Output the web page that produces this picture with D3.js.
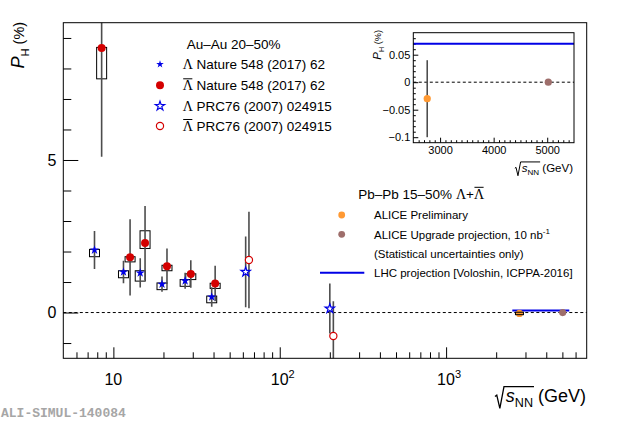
<!DOCTYPE html>
<html>
<head>
<meta charset="utf-8">
<script src="https://cdn.jsdelivr.net/npm/d3@7/dist/d3.min.js"></script>
<style>
  body { margin: 0; background: #fff; }
  text { font-family: "Liberation Sans", Arial, sans-serif; fill: #000; }
</style>
</head>
<body>
<svg id="chart" width="620" height="423"></svg>
<script>
// ---- data ----
// STAR Nature 548 (2017) 62, Lambda
const natLamE = [7.7, 11.5, 14.5, 19.6, 27, 39];
const natLamP = [2.05, 1.33, 1.30, 0.93, 1.04, 0.51];
const natLamStat = [0.62, 0.37, 0.48, 0.25, 0.26, 0.32];
const natLamSysLo = [0.22, 0.19, 0.27, 0.18, 0.18, 0.19];
const natLamSysHi = [0.02, 0.04, 0.07, 0.04, 0.04, 0.03];
// STAR Nature 548 (2017) 62, anti-Lambda (drawn slightly offset in energy)
const natBarE = [8.5, 12.6, 15.5, 21, 29.2, 40.9];
const natBarP = [8.67, 1.81, 2.28, 1.52, 1.26, 0.95];
const natBarStat = [3.56, 1.25, 1.21, 0.58, 0.45, 0.58];
const natBarSysLo = [1.01, 0.15, 0.18, 0.15, 0.18, 0.16];
const natBarSysHi = [0.02, 0.02, 0.40, 0.03, 0.01, 0.01];
// STAR PRC76 (2007) 024915
const prcLamE = [62.4, 200];
const prcLamP = [1.33, 0.13];
const prcLamStat = [1.16, 0.82];
const prcBarE = [65.3, 210];
const prcBarP = [1.72, -0.77];
const prcBarStat = [1.58, 1.14];
// ALICE
const alicePrelimE = [2760];
const alicePrelimP = [-0.03];
const alicePrelimStat = [0.07];
const alicePrelimSys = [0.04];
const aliceUpgE = [5020];
const aliceUpgP = [0.0];
// LHC projection (Voloshin)
const lhcProjE = [2500, 5500];
const lhcProjP = 0.07;

const xMajor = [10, 100, 1000];
const xMinor = [6, 7, 8, 9, 20, 30, 40, 50, 60, 70, 80, 90,
                200, 300, 400, 500, 600, 700, 800, 900, 2000, 3000, 4000, 5000, 6000];
const yMajor = [0, 5];
const yMinor = [-1, 1, 2, 3, 4, 6, 7, 8, 9];
const insetXMajor = [3000, 4000, 5000];
const insetYMajor = [-0.1, -0.05, 0, 0.05];
const insetYLabels = ["\u22120.1", "\u22120.05", "0", "0.05"];

const RED = "#d40000", BLUE = "#0000e6", ORANGE = "#ff9933", BROWN = "#9e6e6b", ERR = "#4d4d4d";
const SERIF = "'Liberation Serif', 'DejaVu Serif', serif";

const svg = d3.select("#chart");

const x = d3.scaleLog().domain([5, 7000]).range([63.3, 586.7]);
const y = d3.scaleLinear().domain([-1.5, 9.5]).range([358.3, 22.7]);

svg.append("clipPath").attr("id", "plotclip")
  .append("rect").attr("x", x.range()[0]).attr("y", y.range()[1])
  .attr("width", x.range()[1] - x.range()[0]).attr("height", y.range()[0] - y.range()[1]);

// axes (ticks inward, labels drawn separately)
svg.append("g").attr("transform", "translate(0," + y.range()[0] + ")")
  .call(d3.axisBottom(x).tickValues(xMajor).tickSize(-11).tickFormat(""))
  .call(g => g.select(".domain").remove());
svg.append("g").attr("transform", "translate(0," + y.range()[0] + ")")
  .call(d3.axisBottom(x).tickValues(xMinor).tickSize(-6).tickFormat(""))
  .call(g => g.select(".domain").remove());
svg.append("g").attr("transform", "translate(" + x.range()[0] + ",0)")
  .call(d3.axisLeft(y).tickValues(yMajor).tickSize(-15).tickPadding(7).tickFormat(d3.format("d")))
  .call(g => g.select(".domain").remove())
  .call(g => g.selectAll("text").attr("font-size", 16));
svg.append("g").attr("transform", "translate(" + x.range()[0] + ",0)")
  .call(d3.axisLeft(y).tickValues(yMinor).tickSize(-8).tickFormat(""))
  .call(g => g.select(".domain").remove());
svg.selectAll(".tick line").attr("stroke", "#000");

// x tick labels 10, 10^2, 10^3
const xlab = svg.append("g");
xMajor.forEach((v, i) => {
  const t = xlab.append("text").attr("x", x(v) - 9).attr("y", 385).attr("font-size", 16);
  t.append("tspan").text("10");
  if (i > 0) t.append("tspan").attr("font-size", 11).attr("dy", -7).text(String(i + 1));
});

// zero line
svg.append("line").attr("x1", x.range()[0]).attr("x2", x.range()[1])
  .attr("y1", y(0)).attr("y2", y(0))
  .attr("stroke", "#000").attr("stroke-dasharray", "3,2.5");

const plot = svg.append("g").attr("clip-path", "url(#plotclip)");

function sysBoxes(E, P, lo, hi) {
  plot.selectAll(null).data(E).enter().append("rect")
    .attr("x", d => x(d) - 5).attr("width", 10)
    .attr("y", (d, i) => y(P[i] + hi[i]))
    .attr("height", (d, i) => Math.max(2, y(P[i] - lo[i]) - y(P[i] + hi[i])))
    .attr("fill", "none").attr("stroke", "#000").attr("stroke-width", 1);
}
function errBars(E, P, st) {
  plot.selectAll(null).data(E).enter().append("line")
    .attr("x1", d => x(d)).attr("x2", d => x(d))
    .attr("y1", (d, i) => y(P[i] + st[i])).attr("y2", (d, i) => y(P[i] - st[i]))
    .attr("stroke", ERR).attr("stroke-width", 1.6);
}
const starPath = s => d3.symbol(d3.symbolStar).size(s)();

sysBoxes(natLamE, natLamP, natLamSysLo, natLamSysHi);
sysBoxes(natBarE, natBarP, natBarSysLo, natBarSysHi);
errBars(natLamE, natLamP, natLamStat);
errBars(natBarE, natBarP, natBarStat);
errBars(prcLamE, prcLamP, prcLamStat);
errBars(prcBarE, prcBarP, prcBarStat);

plot.selectAll(null).data(natLamE).enter().append("path")
  .attr("d", starPath(26))
  .attr("transform", (d, i) => "translate(" + x(d) + "," + y(natLamP[i]) + ")")
  .attr("fill", BLUE);
plot.selectAll(null).data(natBarE).enter().append("circle")
  .attr("cx", d => x(d)).attr("cy", (d, i) => y(natBarP[i])).attr("r", 4)
  .attr("fill", RED);
plot.selectAll(null).data(prcLamE).enter().append("path")
  .attr("d", starPath(27))
  .attr("transform", (d, i) => "translate(" + x(d) + "," + y(prcLamP[i]) + ")")
  .attr("fill", "#fff").attr("stroke", BLUE).attr("stroke-width", 1.2);
plot.selectAll(null).data(prcBarE).enter().append("circle")
  .attr("cx", d => x(d)).attr("cy", (d, i) => y(prcBarP[i])).attr("r", 3.6)
  .attr("fill", "#fff").attr("stroke", RED).attr("stroke-width", 1.2);

// ALICE points + LHC projection in main panel
plot.append("line").attr("x1", x(lhcProjE[0])).attr("x2", x(lhcProjE[1]))
  .attr("y1", y(lhcProjP)).attr("y2", y(lhcProjP)).attr("stroke", BLUE).attr("stroke-width", 2);
plot.selectAll(null).data(alicePrelimE).enter().append("circle")
  .attr("cx", d => x(d)).attr("cy", (d, i) => y(alicePrelimP[i])).attr("r", 3.6).attr("fill", ORANGE);
plot.selectAll(null).data(alicePrelimE).enter().append("rect")
  .attr("x", d => x(d) - 4).attr("width", 8)
  .attr("y", (d, i) => y(alicePrelimP[i] + alicePrelimSys[i]))
  .attr("height", (d, i) => y(alicePrelimP[i] - alicePrelimSys[i]) - y(alicePrelimP[i] + alicePrelimSys[i]))
  .attr("fill", "none").attr("stroke", "#000").attr("stroke-width", 1);
plot.selectAll(null).data(aliceUpgE).enter().append("circle")
  .attr("cx", d => x(d)).attr("cy", (d, i) => y(aliceUpgP[i])).attr("r", 3.6).attr("fill", BROWN);

// frame
svg.append("rect").attr("x", x.range()[0]).attr("y", y.range()[1])
  .attr("width", x.range()[1] - x.range()[0]).attr("height", y.range()[0] - y.range()[1])
  .attr("fill", "none").attr("stroke", "#000").attr("stroke-width", 1);

// ---- helpers for labels ----
function overbar(textSel, idx) {
  const ext = textSel.node().getExtentOfChar(idx);
  svg.append("line").attr("x1", ext.x + 0.5).attr("x2", ext.x + ext.width - 0.5)
    .attr("y1", ext.y + 0.8).attr("y2", ext.y + 0.8)
    .attr("stroke", "#000").attr("stroke-width", 1);
}
function sqrtLabel(xRight, yb, fs) {
  const t = svg.append("text").attr("x", xRight).attr("y", yb)
    .attr("font-size", fs).attr("text-anchor", "end");
  t.append("tspan").attr("font-style", "italic").text("s");
  t.append("tspan").attr("font-size", fs * 0.7).attr("dy", fs * 0.3).text("NN");
  t.append("tspan").attr("dy", -fs * 0.3).text(" (GeV)");
  const n = t.node();
  const sx = n.getExtentOfChar(0).x;
  const e2 = n.getExtentOfChar(2);
  const ex = e2.x + e2.width;
  const top = yb - 0.85 * fs;
  svg.append("path")
    .attr("d", "M" + (sx - 0.6 * fs) + "," + (yb - 0.3 * fs) +
      "L" + (sx - 0.5 * fs) + "," + (yb - 0.38 * fs) +
      "L" + (sx - 0.33 * fs) + "," + (yb + 0.35 * fs) +
      "L" + (sx - 0.1 * fs) + "," + top +
      "L" + (ex + 1) + "," + top)
    .attr("fill", "none").attr("stroke", "#000").attr("stroke-width", fs > 14 ? 1.3 : 1);
}
function phLabel(tx, ty, fs) {
  const t = svg.append("text").attr("transform", "translate(" + tx + "," + ty + ") rotate(-90)")
    .attr("text-anchor", "end").attr("font-size", fs);
  t.append("tspan").attr("font-style", "italic").text("P");
  t.append("tspan").attr("font-size", fs * 0.62).attr("dy", fs * 0.25).text("H");
  t.append("tspan").attr("font-size", fs * 0.8).attr("dy", -fs * 0.25).text(" (%)");
}

phLabel(24, 22, 18);
sqrtLabel(586, 402, 18);

// ---- Au-Au legend ----
svg.append("text").attr("x", 186.7).attr("y", 49).attr("font-size", 13.5).text("Au\u2013Au 20\u201350%");
const legRows = [
  { y: 64.3, bar: false, txt: " Nature 548 (2017) 62", mark: "fstar" },
  { y: 85.3, bar: true, txt: " Nature 548 (2017) 62", mark: "fdot" },
  { y: 106, bar: false, txt: " PRC76 (2007) 024915", mark: "ostar" },
  { y: 126, bar: true, txt: " PRC76 (2007) 024915", mark: "odot" }
];
legRows.forEach(r => {
  if (r.mark === "fstar") svg.append("path").attr("d", starPath(18)).attr("transform", "translate(160," + r.y + ")").attr("fill", BLUE);
  if (r.mark === "ostar") svg.append("path").attr("d", starPath(27)).attr("transform", "translate(160," + r.y + ")").attr("fill", "#fff").attr("stroke", BLUE).attr("stroke-width", 1.2);
  if (r.mark === "fdot") svg.append("circle").attr("cx", 160).attr("cy", r.y).attr("r", 4).attr("fill", RED);
  if (r.mark === "odot") svg.append("circle").attr("cx", 160).attr("cy", r.y).attr("r", 3.6).attr("fill", "#fff").attr("stroke", RED).attr("stroke-width", 1.2);
  const t = svg.append("text").attr("x", 182.7).attr("y", r.y + 4.7).attr("font-size", 13.5);
  t.append("tspan").style("font-family", SERIF).attr("font-size", 14).text("\u039B");
  t.append("tspan").text(r.txt);
  if (r.bar) overbar(t, 0);
});

// ---- Pb-Pb legend ----
const hdr = svg.append("text").attr("x", 358.3).attr("y", 198.5).attr("font-size", 13.5);
hdr.append("tspan").text("Pb\u2013Pb 15\u201350% ");
hdr.append("tspan").style("font-family", SERIF).attr("font-size", 14).text("\u039B");
hdr.append("tspan").text("+");
hdr.append("tspan").style("font-family", SERIF).attr("font-size", 14).text("\u039B");
overbar(hdr, "Pb\u2013Pb 15\u201350% \u039B+".length);

svg.append("circle").attr("cx", 341.7).attr("cy", 215).attr("r", 3.4).attr("fill", ORANGE);
svg.append("text").attr("x", 374).attr("y", 219).attr("font-size", 11.5).text("ALICE Preliminary");
svg.append("circle").attr("cx", 341.7).attr("cy", 234.3).attr("r", 3.4).attr("fill", BROWN);
const upg = svg.append("text").attr("x", 374).attr("y", 238.5).attr("font-size", 11.5);
upg.append("tspan").text("ALICE Upgrade projection, 10 nb");
upg.append("tspan").attr("font-size", 8).attr("dy", -5).text("-1");
svg.append("text").attr("x", 374).attr("y", 257.5).attr("font-size", 11.5).text("(Statistical uncertainties only)");
svg.append("line").attr("x1", 320).attr("x2", 364.3).attr("y1", 272.7).attr("y2", 272.7)
  .attr("stroke", BLUE).attr("stroke-width", 2);
svg.append("text").attr("x", 374).attr("y", 277).attr("font-size", 11.5).text("LHC projection [Voloshin, ICPPA-2016]");

// ---- inset ----
const xi = d3.scaleLinear().domain([2500, 5500]).range([413.3, 574]);
const yi = d3.scaleLinear().domain([-0.11, 0.09]).range([142.7, 32.7]);
const ins = svg.append("g");
ins.append("rect").attr("x", xi.range()[0]).attr("y", yi.range()[1])
  .attr("width", xi.range()[1] - xi.range()[0]).attr("height", yi.range()[0] - yi.range()[1])
  .attr("fill", "#fff");
ins.append("g").attr("transform", "translate(0," + yi.range()[0] + ")")
  .call(d3.axisBottom(xi).tickValues(insetXMajor).tickSize(-5).tickPadding(4).tickFormat(d3.format("d")))
  .call(g => g.select(".domain").remove())
  .call(g => g.selectAll("text").attr("font-size", 11));
ins.append("g").attr("transform", "translate(0," + yi.range()[0] + ")")
  .call(d3.axisBottom(xi).tickValues(d3.range(2600, 5500, 100).filter(v => v % 1000)).tickSize(-2.5).tickFormat(""))
  .call(g => g.select(".domain").remove());
ins.append("g").attr("transform", "translate(" + xi.range()[0] + ",0)")
  .call(d3.axisLeft(yi).tickValues(insetYMajor).tickSize(-5).tickPadding(3).tickFormat((d, i) => insetYLabels[i]))
  .call(g => g.select(".domain").remove())
  .call(g => g.selectAll("text").attr("font-size", 11));
ins.append("g").attr("transform", "translate(" + xi.range()[0] + ",0)")
  .call(d3.axisLeft(yi).tickValues(d3.range(-10, 9).map(v => v / 100).filter(v => Math.round(v * 100) % 5)).tickSize(-2.5).tickFormat(""))
  .call(g => g.select(".domain").remove());
ins.selectAll(".tick line").attr("stroke", "#000");

ins.append("line").attr("x1", xi.range()[0]).attr("x2", xi.range()[1])
  .attr("y1", yi(0)).attr("y2", yi(0)).attr("stroke", "#000").attr("stroke-dasharray", "3,2.5");
ins.append("line").attr("x1", xi.range()[0]).attr("x2", xi.range()[1])
  .attr("y1", yi(lhcProjP)).attr("y2", yi(lhcProjP)).attr("stroke", BLUE).attr("stroke-width", 2);
ins.selectAll(null).data(alicePrelimE).enter().append("line")
  .attr("x1", d => xi(d)).attr("x2", d => xi(d))
  .attr("y1", (d, i) => yi(alicePrelimP[i] + alicePrelimStat[i]))
  .attr("y2", (d, i) => yi(alicePrelimP[i] - alicePrelimStat[i]))
  .attr("stroke", ERR).attr("stroke-width", 1.6);
ins.selectAll(null).data(alicePrelimE).enter().append("circle")
  .attr("cx", d => xi(d)).attr("cy", (d, i) => yi(alicePrelimP[i])).attr("r", 3.6).attr("fill", ORANGE);
ins.selectAll(null).data(aliceUpgE).enter().append("circle")
  .attr("cx", d => xi(d)).attr("cy", (d, i) => yi(aliceUpgP[i])).attr("r", 3.6).attr("fill", BROWN);
ins.append("rect").attr("x", xi.range()[0]).attr("y", yi.range()[1])
  .attr("width", xi.range()[1] - xi.range()[0]).attr("height", yi.range()[0] - yi.range()[1])
  .attr("fill", "none").attr("stroke", "#000").attr("stroke-width", 1);

phLabel(381, 30, 11.5);
sqrtLabel(573, 171.7, 11.5);

// watermark
svg.append("text").attr("x", 1).attr("y", 417).attr("font-size", 13)
  .style("font-family", "'Liberation Mono', 'DejaVu Sans Mono', monospace").attr("font-weight", "bold")
  .style("fill", "#a6a6a6").text("ALI-SIMUL-140084");
</script>
</body>
</html>
